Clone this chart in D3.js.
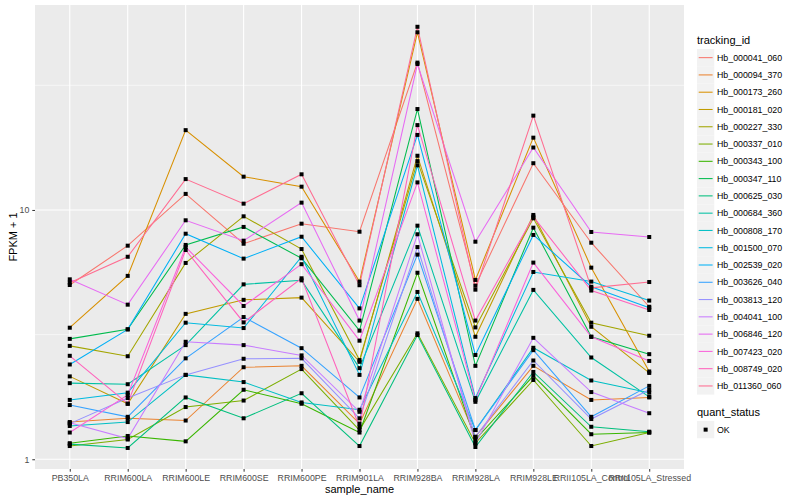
<!DOCTYPE html>
<html><head><meta charset="utf-8">
<script src="https://cdn.jsdelivr.net/npm/d3@7"></script>
<style>body{margin:0;background:#fff} text{font-family:"Liberation Sans",Arial,Helvetica,sans-serif}</style>
</head><body><svg id="c" width="800" height="500"></svg>
<script>
const categories = ["PB350LA","RRIM600LA","RRIM600LE","RRIM600SE","RRIM600PE","RRIM901LA","RRIM928BA","RRIM928LA","RRIM928LE","RRII105LA_Control","RRII105LA_Stressed"];
const trackingIds = ["Hb_000041_060","Hb_000094_370","Hb_000173_260","Hb_000181_020","Hb_000227_330","Hb_000337_010","Hb_000343_100","Hb_000347_110","Hb_000625_030","Hb_000684_360","Hb_000808_170","Hb_001500_070","Hb_002539_020","Hb_003626_040","Hb_003813_120","Hb_004041_100","Hb_006846_120","Hb_007423_020","Hb_008749_020","Hb_011360_060"];
const seriesColors = ["#F8766D","#EA8331","#D89000","#C09B00","#A3A500","#7CAE00","#39B600","#00BB4E","#00BF7D","#00C1A3","#00BFC4","#00BAE0","#00B0F6","#35A2FF","#9590FF","#C77CFF","#E76BF3","#FA62DB","#FF62BC","#FF6C91"];
const yTicks = [1, 10];
const yMinor = [3.162, 31.62];
const quantLevels = ["OK"];

const hb_000041_060 = [5.00, 7.19, 11.6, 7.32, 8.81, 8.18, 39.0, 4.97, 15.4, 7.39, 4.09];
const hb_000094_370 = [1.41, 1.46, 1.43, 2.34, 2.37, 1.39, 4.40, 1.23, 2.37, 1.73, 1.77];
const hb_000173_260 = [3.37, 5.44, 20.9, 13.6, 12.4, 5.16, 51.6, 5.24, 19.5, 5.87, 2.25];
const hb_000181_020 = [2.15, 1.67, 3.83, 4.36, 4.45, 2.46, 16.5, 3.10, 9.55, 3.40, 2.22];
const hb_000227_330 = [2.85, 2.59, 6.13, 9.43, 6.97, 2.50, 15.7, 3.38, 9.26, 3.53, 3.13];
const hb_000337_010 = [1.13, 1.20, 1.62, 1.72, 2.30, 1.31, 3.20, 1.16, 2.08, 1.13, 1.28];
const hb_000343_100 = [1.16, 1.24, 1.18, 1.90, 1.67, 1.28, 5.60, 1.20, 2.16, 1.26, 1.28];
const hb_000347_110 = [3.04, 3.32, 7.24, 8.55, 6.40, 3.28, 25.4, 2.37, 8.49, 3.10, 2.64];
const hb_000625_030 = [1.15, 1.11, 1.77, 1.46, 1.84, 1.13, 3.15, 1.12, 2.24, 1.35, 1.29];
const hb_000684_360 = [2.02, 2.00, 2.87, 5.03, 5.22, 2.32, 8.65, 1.70, 4.78, 2.56, 1.78];
const hb_000808_170 = [1.36, 1.41, 2.18, 2.04, 1.69, 1.58, 4.69, 1.31, 2.80, 2.07, 1.85];
const hb_001500_070 = [1.73, 1.85, 3.53, 3.36, 6.49, 2.18, 15.1, 1.76, 5.64, 5.16, 4.33];
const hb_002539_020 = [2.40, 3.32, 8.03, 6.38, 7.81, 4.03, 20.0, 2.62, 7.94, 4.92, 4.05];
const hb_003626_040 = [1.65, 1.48, 2.54, 3.72, 2.79, 1.77, 6.62, 1.31, 2.74, 1.48, 1.97];
const hb_003813_120 = [1.39, 1.76, 2.18, 2.53, 2.54, 1.46, 7.10, 1.23, 2.49, 1.45, 1.90];
const hb_004041_100 = [1.40, 1.21, 2.96, 2.87, 2.61, 1.55, 7.99, 1.16, 3.07, 1.86, 1.53];
const hb_006846_120 = [5.27, 4.17, 9.09, 7.53, 10.7, 3.60, 38.5, 7.46, 17.8, 8.16, 7.79];
const hb_007423_020 = [1.28, 1.81, 7.10, 4.12, 6.06, 2.99, 12.9, 1.73, 6.15, 3.10, 2.48];
const hb_008749_020 = [2.60, 1.67, 6.91, 3.54, 5.32, 1.35, 21.9, 3.60, 9.40, 4.75, 3.97];
const hb_011360_060 = [5.11, 6.49, 13.3, 10.6, 13.9, 4.99, 54.3, 4.79, 23.9, 4.87, 5.14];

const seriesValues = [hb_000041_060, hb_000094_370, hb_000173_260, hb_000181_020, hb_000227_330,
  hb_000337_010, hb_000343_100, hb_000347_110, hb_000625_030, hb_000684_360, hb_000808_170,
  hb_001500_070, hb_002539_020, hb_003626_040, hb_003813_120, hb_004041_100, hb_006846_120,
  hb_007423_020, hb_008749_020, hb_011360_060];

const series = trackingIds.map((id, i) => ({
  id, color: seriesColors[i],
  points: categories.map((c, j) => ({cat: c, v: seriesValues[i][j]}))
}));

const svg = d3.select("#c");
const P = {l: 35, r: 684, t: 5, b: 469};

svg.append("rect").attr("width", 800).attr("height", 500).attr("fill", "#fff");
svg.append("rect").attr("x", P.l).attr("y", P.t).attr("width", P.r - P.l).attr("height", P.b - P.t).attr("fill", "#EBEBEB");

const x = d3.scalePoint().domain(categories).range([P.l, P.r]).padding(0.6);
const y = d3.scaleLog().domain([0.914, 66.4]).range([P.b, P.t]);

const grid = svg.append("g");
grid.selectAll(".minor").data(yMinor).join("line")
  .attr("x1", P.l).attr("x2", P.r).attr("y1", d => y(d)).attr("y2", d => y(d))
  .attr("stroke", "#fff").attr("stroke-width", 0.55);
grid.selectAll(".majory").data(yTicks).join("line")
  .attr("x1", P.l).attr("x2", P.r).attr("y1", d => y(d)).attr("y2", d => y(d))
  .attr("stroke", "#fff").attr("stroke-width", 1.1);
grid.selectAll(".majorx").data(categories).join("line")
  .attr("y1", P.t).attr("y2", P.b).attr("x1", d => x(d)).attr("x2", d => x(d))
  .attr("stroke", "#fff").attr("stroke-width", 1.1);

const line = d3.line().x(d => x(d.cat)).y(d => y(d.v));
svg.append("g").selectAll("path").data(series).join("path")
  .attr("d", d => line(d.points)).attr("fill", "none")
  .attr("stroke", d => d.color).attr("stroke-width", 1.05);

const pts = series.flatMap(s => s.points);
svg.append("g").selectAll("rect").data(pts).join("rect")
  .attr("x", d => x(d.cat) - 2).attr("y", d => y(d.v) - 2)
  .attr("width", 4).attr("height", 4).attr("fill", "#000");

// axes
const yAxis = svg.append("g").attr("transform", `translate(${P.l},0)`)
  .call(d3.axisLeft(y).tickValues(yTicks).tickFormat(d3.format("d")).tickSize(2.7).tickPadding(3));
yAxis.select(".domain").remove();
yAxis.selectAll("line").attr("stroke", "#333").attr("stroke-width", 1);
yAxis.selectAll("text").attr("fill", "#4D4D4D").style("font-size", "8.8px").attr("font-family", null);

const xAxis = svg.append("g").attr("transform", `translate(0,${P.b})`)
  .call(d3.axisBottom(x).tickSize(2.7).tickPadding(3));
xAxis.select(".domain").remove();
xAxis.selectAll("line").attr("stroke", "#333").attr("stroke-width", 1);
xAxis.selectAll("text").attr("fill", "#4D4D4D").style("font-size", "8.8px").attr("font-family", null);

svg.append("text").attr("x", (P.l + P.r) / 2).attr("y", 493).attr("text-anchor", "middle")
  .style("font-size", "11px").attr("fill", "#000").text("sample_name");
svg.append("text").attr("transform", `translate(17,${(P.t + P.b) / 2}) rotate(-90)`)
  .attr("text-anchor", "middle").style("font-size", "11px").attr("fill", "#000").text("FPKM + 1");

// legend
const lg = svg.append("g");
lg.append("text").attr("x", 697).attr("y", 44).style("font-size", "11px").text("tracking_id");
const keyH = 17.28, key0 = 49;
const items = lg.selectAll(".item").data(series).join("g")
  .attr("transform", (d, i) => `translate(697,${key0 + i * keyH})`);
items.append("rect").attr("width", 17.28).attr("height", 17.28).attr("fill", "#F2F2F2");
items.append("line").attr("x1", 1.7).attr("x2", 15.6).attr("y1", 8.64).attr("y2", 8.64)
  .attr("stroke", d => d.color).attr("stroke-width", 1.05);
items.append("text").attr("x", 20).attr("y", 11.8).style("font-size", "8.8px").text(d => d.id);

lg.append("text").attr("x", 697).attr("y", 416).style("font-size", "11px").text("quant_status");
const q = lg.selectAll(".q").data(quantLevels).join("g").attr("transform", (d, i) => `translate(697,${421 + i * keyH})`);
q.append("rect").attr("width", 17.28).attr("height", 17.28).attr("fill", "#F2F2F2");
q.append("rect").attr("x", 6.64).attr("y", 6.64).attr("width", 4).attr("height", 4).attr("fill", "#000");
q.append("text").attr("x", 20).attr("y", 11.8).style("font-size", "8.8px").text(d => d);
</script></body></html>
